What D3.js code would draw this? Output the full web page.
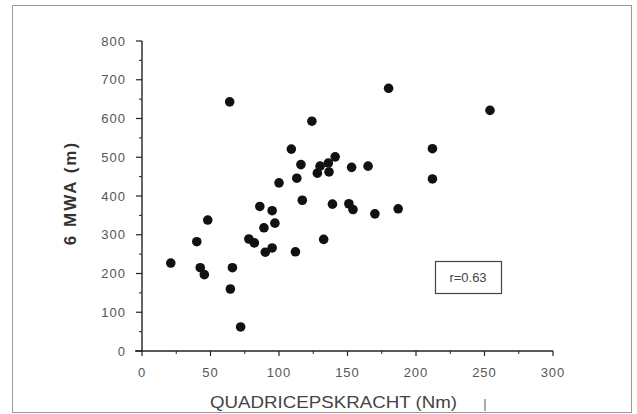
<!DOCTYPE html>
<html>
<head>
<meta charset="utf-8">
<script src="https://cdn.jsdelivr.net/npm/d3@7"></script>
<style>
  body { margin: 0; background: #fff; }
  svg { display: block; }
</style>
</head>
<body>
<div id="chart"></div>
<script>
// quadriceps strength (Nm) vs 6-minute walking distance (m)
var kracht = [21, 40, 42.5, 45.5, 48, 64, 64.5, 66, 72, 78, 82, 86, 89, 90, 95, 95, 97, 100,
  109, 113, 112, 116, 117, 124, 128, 130, 136, 136.5, 132.6, 141, 139, 151, 153, 154, 165,
  170, 180, 187, 212, 212, 254];
var mwa = [227, 282, 215, 197, 338, 643, 160, 215, 62, 289, 279, 373, 318, 255, 266, 362, 330, 434,
  521, 446, 256, 481, 389, 593, 459, 477, 485, 462, 288, 501, 379, 380, 474, 365, 477,
  354, 678, 367, 522, 444, 621];
var xTicks = [0, 50, 100, 150, 200, 250, 300];
var yTicks = [0, 100, 200, 300, 400, 500, 600, 700, 800];
var correlation = "r=0.63";

function drawScatter() {
  const width = 637;
  const height = 414;

  const svg = d3.select("#chart").append("svg")
    .attr("width", width)
    .attr("height", height);

  // kader rond de figuur
  svg.append("rect")
    .attr("x", 12.5).attr("y", 5.5)
    .attr("width", 619).attr("height", 407)
    .attr("fill", "none")
    .attr("stroke", "#999")
    .attr("stroke-width", 1);

  const x = d3.scaleLinear().domain([0, 300]).range([142, 553]);
  const y = d3.scaleLinear().domain([0, 800]).range([351, 41]);

  const axisColor = "#222";

  // x-as
  const gx = svg.append("g").attr("transform", "translate(0," + y(0) + ")");
  gx.append("line")
    .attr("x1", 135).attr("x2", x(300))
    .attr("stroke", axisColor).attr("stroke-width", 1.4);
  gx.selectAll(".minor")
    .data(d3.range(25, 300, 50))
    .join("line")
    .attr("x1", d => x(d)).attr("x2", d => x(d))
    .attr("y1", 0).attr("y2", 3)
    .attr("stroke", axisColor).attr("stroke-width", 1);
  gx.selectAll(".major")
    .data(xTicks)
    .join("line")
    .attr("x1", d => x(d)).attr("x2", d => x(d))
    .attr("y1", 0).attr("y2", 5)
    .attr("stroke", axisColor).attr("stroke-width", 1.2);
  gx.selectAll("text")
    .data(xTicks)
    .join("text")
    .attr("x", d => x(d))
    .attr("y", 26)
    .attr("text-anchor", "middle")
    .attr("font-family", "Liberation Sans, Arial, sans-serif")
    .attr("font-size", 13)
    .attr("letter-spacing", 1)
    .attr("fill", "#555")
    .text(d => d);

  // y-as
  const gy = svg.append("g").attr("transform", "translate(" + x(0) + ",0)");
  gy.append("line")
    .attr("y1", y(800)).attr("y2", y(0) + 1)
    .attr("stroke", axisColor).attr("stroke-width", 1.4);
  gy.selectAll(".minor")
    .data(d3.range(50, 800, 100))
    .join("line")
    .attr("y1", d => y(d)).attr("y2", d => y(d))
    .attr("x1", 0).attr("x2", -3)
    .attr("stroke", axisColor).attr("stroke-width", 1);
  gy.selectAll(".major")
    .data(yTicks)
    .join("line")
    .attr("y1", d => y(d)).attr("y2", d => y(d))
    .attr("x1", 0).attr("x2", -6)
    .attr("stroke", axisColor).attr("stroke-width", 1.2);
  gy.selectAll("text")
    .data(yTicks)
    .join("text")
    .attr("x", -16)
    .attr("y", d => y(d) + 4.5)
    .attr("text-anchor", "end")
    .attr("font-family", "Liberation Sans, Arial, sans-serif")
    .attr("font-size", 13)
    .attr("letter-spacing", 1)
    .attr("fill", "#555")
    .text(d => d);

  // aslabels
  svg.append("text")
    .attr("transform", "translate(76,193) rotate(-90)")
    .attr("text-anchor", "middle")
    .attr("font-family", "Liberation Sans, Arial, sans-serif")
    .attr("font-size", 17)
    .attr("font-weight", "bold")
    .attr("letter-spacing", 2)
    .attr("fill", "#333")
    .text("6 MWA (m)");

  svg.append("text")
    .attr("x", 210)
    .attr("y", 408)
    .attr("textLength", 247)
    .attr("lengthAdjust", "spacingAndGlyphs")
    .attr("font-family", "Liberation Sans, Arial, sans-serif")
    .attr("font-size", 17)
    .attr("fill", "#444")
    .text("QUADRICEPSKRACHT (Nm)");

  // klein streepje onder de as (uit het origineel)
  svg.append("line")
    .attr("x1", 485).attr("x2", 485)
    .attr("y1", 399).attr("y2", 411)
    .attr("stroke", "#555").attr("stroke-width", 1);

  // punten
  const points = kracht.map((k, i) => ({ k: k, m: mwa[i] }));
  svg.append("g")
    .selectAll("circle")
    .data(points)
    .join("circle")
    .attr("cx", d => x(d.k))
    .attr("cy", d => y(d.m))
    .attr("r", 4.8)
    .attr("fill", "#111");

  // correlatie kader
  svg.append("rect")
    .attr("x", 435.5).attr("y", 261.5)
    .attr("width", 66).attr("height", 32)
    .attr("fill", "#fff")
    .attr("stroke", "#444")
    .attr("stroke-width", 1.2);
  svg.append("text")
    .attr("x", 468)
    .attr("y", 282)
    .attr("text-anchor", "middle")
    .attr("font-family", "Liberation Sans, Arial, sans-serif")
    .attr("font-size", 13)
    .attr("fill", "#444")
    .text(correlation);
}

drawScatter();
</script>
</body>
</html>
